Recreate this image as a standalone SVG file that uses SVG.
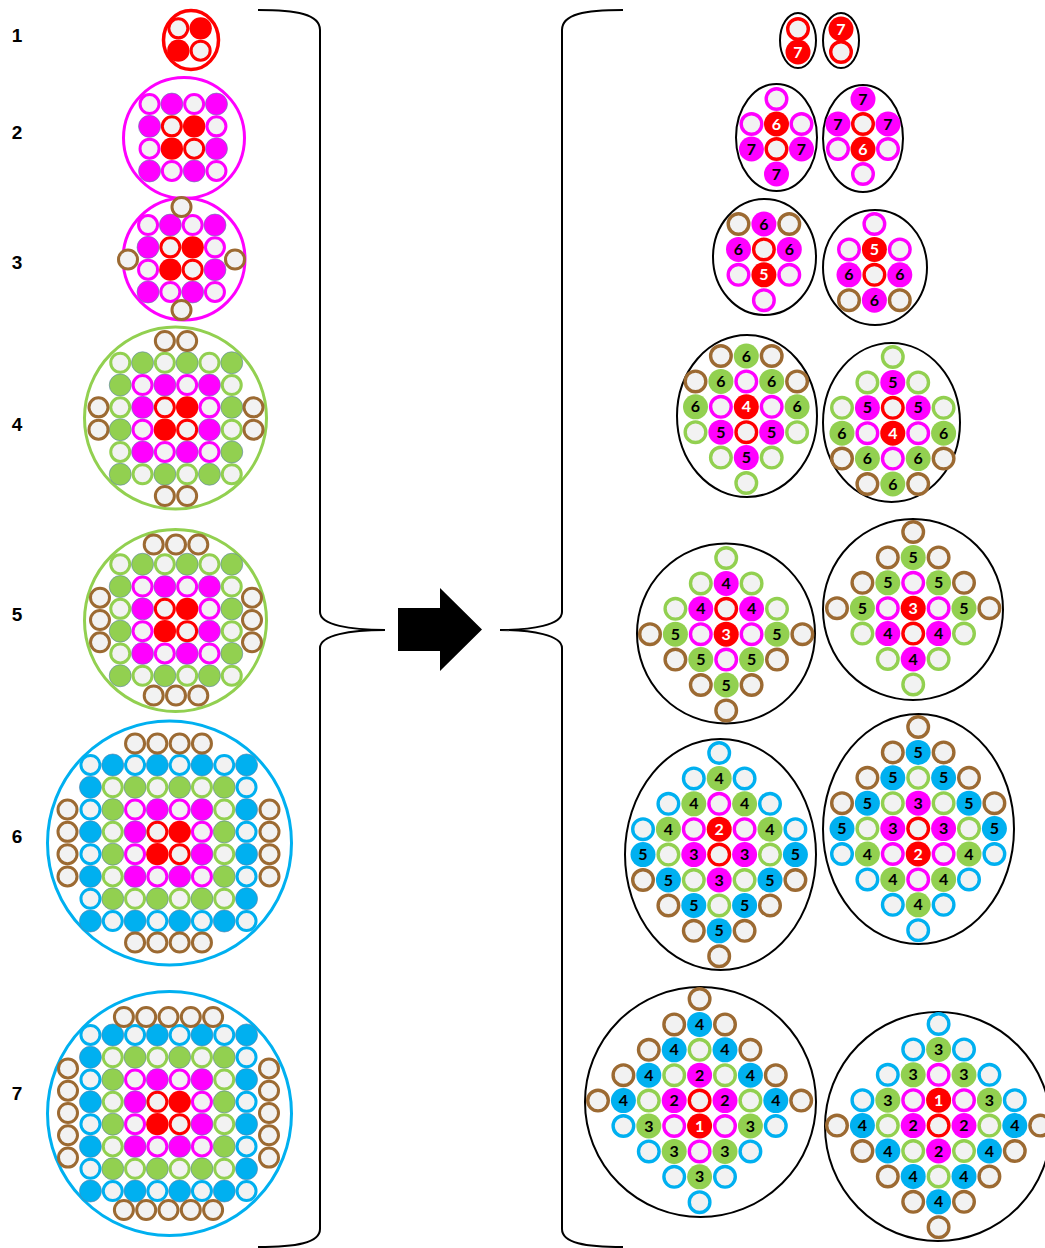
<svg xmlns="http://www.w3.org/2000/svg" width="1045" height="1248" viewBox="0 0 1045 1248">
<style>
.lab{font-family:"Liberation Sans",Arial,sans-serif;font-weight:bold;font-size:19px;text-anchor:middle;fill:#000}
.t text{font-family:Lato,"Open Sans",sans-serif;font-weight:bold;font-size:16px;text-anchor:middle;fill:#000}
.t text.w{fill:#fff}
.ell{fill:none;stroke:#000;stroke-width:2}
.con{fill:none;stroke:#000;stroke-width:2}
</style>
<defs>
<circle id="lrR" r="9.5" fill="#f2f2f2" stroke="#ff0000" stroke-width="3"/>
<circle id="lfR" r="11.2" fill="#ff0000"/>
<circle id="lrM" r="9.5" fill="#f2f2f2" stroke="#ff00ff" stroke-width="3"/>
<circle id="lfM" r="11" fill="#ff00ff" stroke="#5a7fa8" stroke-width="0.6"/>
<circle id="lrG" r="9.5" fill="#f2f2f2" stroke="#92d050" stroke-width="3"/>
<circle id="lfG" r="11" fill="#92d050" stroke="#5a7fa8" stroke-width="0.6"/>
<circle id="lrB" r="9.5" fill="#f2f2f2" stroke="#00b0f0" stroke-width="3"/>
<circle id="lfB" r="11" fill="#00b0f0" stroke="#5a7fa8" stroke-width="0.6"/>
<circle id="lrN" r="9.5" fill="#f2f2f2" stroke="#9c6a32" stroke-width="3"/>
<circle id="Rr" r="10.3" fill="#f2f2f2" stroke="#ff0000" stroke-width="3.4"/>
<circle id="Rf" r="12.5" fill="#ff0000"/>
<circle id="Mr" r="10.3" fill="#f2f2f2" stroke="#ff00ff" stroke-width="3.4"/>
<circle id="Mf" r="12.5" fill="#ff00ff"/>
<circle id="Gr" r="10.3" fill="#f2f2f2" stroke="#92d050" stroke-width="3.4"/>
<circle id="Gf" r="12.5" fill="#92d050"/>
<circle id="Br" r="10.3" fill="#f2f2f2" stroke="#00b0f0" stroke-width="3.4"/>
<circle id="Bf" r="12.5" fill="#00b0f0"/>
<circle id="Nr" r="10.3" fill="#f2f2f2" stroke="#9c6a32" stroke-width="3.4"/>
<g id="core">
<use href="#lrR" x="-11.15" y="-11.15"/><use href="#lfR" x="11.15" y="-11.15"/><use href="#lfR" x="-11.15" y="11.15"/><use href="#lrR" x="11.15" y="11.15"/>
</g>
<g id="L1">
<use href="#lrM" x="-33.45" y="-33.45"/><use href="#lfM" x="-11.15" y="-33.45"/><use href="#lrM" x="11.15" y="-33.45"/><use href="#lfM" x="33.45" y="-33.45"/>
<use href="#lfM" x="-33.45" y="33.45"/><use href="#lrM" x="-11.15" y="33.45"/><use href="#lfM" x="11.15" y="33.45"/><use href="#lrM" x="33.45" y="33.45"/>
<use href="#lfM" x="-33.45" y="-11.15"/><use href="#lrM" x="-33.45" y="11.15"/>
<use href="#lrM" x="33.45" y="-11.15"/><use href="#lfM" x="33.45" y="11.15"/>
</g>
<g id="L2">
<use href="#lrG" x="-55.75" y="-55.75"/><use href="#lfG" x="-33.45" y="-55.75"/><use href="#lrG" x="-11.15" y="-55.75"/><use href="#lfG" x="11.15" y="-55.75"/><use href="#lrG" x="33.45" y="-55.75"/><use href="#lfG" x="55.75" y="-55.75"/>
<use href="#lfG" x="-55.75" y="55.75"/><use href="#lrG" x="-33.45" y="55.75"/><use href="#lfG" x="-11.15" y="55.75"/><use href="#lrG" x="11.15" y="55.75"/><use href="#lfG" x="33.45" y="55.75"/><use href="#lrG" x="55.75" y="55.75"/>
<use href="#lfG" x="-55.75" y="-33.45"/><use href="#lrG" x="-55.75" y="-11.15"/><use href="#lfG" x="-55.75" y="11.15"/><use href="#lrG" x="-55.75" y="33.45"/>
<use href="#lrG" x="55.75" y="-33.45"/><use href="#lfG" x="55.75" y="-11.15"/><use href="#lrG" x="55.75" y="11.15"/><use href="#lfG" x="55.75" y="33.45"/>
</g>
<g id="L3">
<use href="#lrB" x="-78.05" y="-78.05"/><use href="#lfB" x="-55.75" y="-78.05"/><use href="#lrB" x="-33.45" y="-78.05"/><use href="#lfB" x="-11.15" y="-78.05"/><use href="#lrB" x="11.15" y="-78.05"/><use href="#lfB" x="33.45" y="-78.05"/><use href="#lrB" x="55.75" y="-78.05"/><use href="#lfB" x="78.05" y="-78.05"/>
<use href="#lfB" x="-78.05" y="78.05"/><use href="#lrB" x="-55.75" y="78.05"/><use href="#lfB" x="-33.45" y="78.05"/><use href="#lrB" x="-11.15" y="78.05"/><use href="#lfB" x="11.15" y="78.05"/><use href="#lrB" x="33.45" y="78.05"/><use href="#lfB" x="55.75" y="78.05"/><use href="#lrB" x="78.05" y="78.05"/>
<use href="#lfB" x="-78.05" y="-55.75"/><use href="#lrB" x="-78.05" y="-33.45"/><use href="#lfB" x="-78.05" y="-11.15"/><use href="#lrB" x="-78.05" y="11.15"/><use href="#lfB" x="-78.05" y="33.45"/><use href="#lrB" x="-78.05" y="55.75"/>
<use href="#lrB" x="78.05" y="-55.75"/><use href="#lfB" x="78.05" y="-33.45"/><use href="#lrB" x="78.05" y="-11.15"/><use href="#lfB" x="78.05" y="11.15"/><use href="#lrB" x="78.05" y="33.45"/><use href="#lfB" x="78.05" y="55.75"/>
</g>
</defs>
<rect width="1045" height="1248" fill="#fff"/>

<g id="labels">
<text class="lab" x="17" y="42">1</text>
<text class="lab" x="17" y="139">2</text>
<text class="lab" x="17" y="269">3</text>
<text class="lab" x="17" y="431">4</text>
<text class="lab" x="17" y="621">5</text>
<text class="lab" x="17" y="843">6</text>
<text class="lab" x="17" y="1100">7</text>
</g>

<g id="connectors">
<path class="con" d="M258,10 C296,10 320,14 320,30 L320,612 C320,625 350,630 385,630 C350,630 320,635 320,648 L320,1229 C320,1243 296,1247 258,1247"/>
<path class="con" d="M623,10 C585,10 562,14 562,30 L562,612 C562,625 532,630 500,630 C532,630 562,635 562,648 L562,1229 C562,1243 585,1247 623,1247"/>
<polygon points="398,608 440,608 440,588 482,629.5 440,671 440,651 398,651" fill="#000"/>
</g>

<g id="item1">
<ellipse cx="191" cy="40" rx="27.5" ry="29.5" fill="none" stroke="#ff0000" stroke-width="3.5"/>
<g transform="translate(189.5,39.5)"><use href="#core"/></g>
</g>
<g id="item2">
<circle cx="184" cy="138" r="60.5" fill="none" stroke="#ff00ff" stroke-width="3"/>
<g transform="translate(183,137.5)"><use href="#core"/><use href="#L1"/></g>
</g>
<g id="item3">
<circle cx="184" cy="259" r="61" fill="none" stroke="#ff00ff" stroke-width="3"/>
<g transform="translate(181.5,258.5)"><use href="#core"/><use href="#L1"/>
<use href="#lrN" x="0" y="-51.5"/><use href="#lrN" x="0" y="51.5"/><use href="#lrN" x="-53.5" y="1"/><use href="#lrN" x="53.5" y="1"/></g>
</g>
<g id="item4">
<circle cx="175.5" cy="418" r="91" fill="none" stroke="#92d050" stroke-width="3"/>
<g transform="translate(176,418.5)"><use href="#core"/><use href="#L1"/><use href="#L2"/>
<use href="#lrN" x="-11.15" y="-77.5"/><use href="#lrN" x="11.15" y="-77.5"/><use href="#lrN" x="-11.15" y="77.5"/><use href="#lrN" x="11.15" y="77.5"/>
<use href="#lrN" x="-77.5" y="-11.15"/><use href="#lrN" x="-77.5" y="11.15"/><use href="#lrN" x="77.5" y="-11.15"/><use href="#lrN" x="77.5" y="11.15"/></g>
</g>
<g id="item5">
<circle cx="175.5" cy="620.5" r="91" fill="none" stroke="#92d050" stroke-width="3"/>
<g transform="translate(176,620)"><use href="#core"/><use href="#L1"/><use href="#L2"/>
<use href="#lrN" x="-22.3" y="-75.5"/><use href="#lrN" x="0" y="-75.5"/><use href="#lrN" x="22.3" y="-75.5"/>
<use href="#lrN" x="-22.3" y="75.5"/><use href="#lrN" x="0" y="75.5"/><use href="#lrN" x="22.3" y="75.5"/>
<use href="#lrN" x="-76" y="-22.3"/><use href="#lrN" x="-76" y="0"/><use href="#lrN" x="-76" y="22.3"/>
<use href="#lrN" x="76" y="-22.3"/><use href="#lrN" x="76" y="0"/><use href="#lrN" x="76" y="22.3"/></g>
</g>
<g id="item6">
<circle cx="169.5" cy="843" r="122" fill="none" stroke="#00b0f0" stroke-width="3"/>
<g transform="translate(168.5,843)"><use href="#core"/><use href="#L1"/><use href="#L2"/><use href="#L3"/>
<use href="#lrN" x="-33.45" y="-99.5"/><use href="#lrN" x="-11.15" y="-99.5"/><use href="#lrN" x="11.15" y="-99.5"/><use href="#lrN" x="33.45" y="-99.5"/>
<use href="#lrN" x="-33.45" y="99.5"/><use href="#lrN" x="-11.15" y="99.5"/><use href="#lrN" x="11.15" y="99.5"/><use href="#lrN" x="33.45" y="99.5"/>
<use href="#lrN" x="-101" y="-33.45"/><use href="#lrN" x="-101" y="-11.15"/><use href="#lrN" x="-101" y="11.15"/><use href="#lrN" x="-101" y="33.45"/>
<use href="#lrN" x="101" y="-33.45"/><use href="#lrN" x="101" y="-11.15"/><use href="#lrN" x="101" y="11.15"/><use href="#lrN" x="101" y="33.45"/></g>
</g>
<g id="item7">
<circle cx="169.5" cy="1113.5" r="122" fill="none" stroke="#00b0f0" stroke-width="3"/>
<g transform="translate(168.5,1113)"><use href="#core"/><use href="#L1"/><use href="#L2"/><use href="#L3"/>
<use href="#lrN" x="-44.6" y="-96"/><use href="#lrN" x="-22.3" y="-96"/><use href="#lrN" x="0" y="-96"/><use href="#lrN" x="22.3" y="-96"/><use href="#lrN" x="44.6" y="-96"/>
<use href="#lrN" x="-44.6" y="97"/><use href="#lrN" x="-22.3" y="97"/><use href="#lrN" x="0" y="97"/><use href="#lrN" x="22.3" y="97"/><use href="#lrN" x="44.6" y="97"/>
<use href="#lrN" x="-100.5" y="-44.6"/><use href="#lrN" x="-100.5" y="-22.3"/><use href="#lrN" x="-100.5" y="0"/><use href="#lrN" x="-100.5" y="22.3"/><use href="#lrN" x="-100.5" y="44.6"/>
<use href="#lrN" x="100.5" y="-44.6"/><use href="#lrN" x="100.5" y="-22.3"/><use href="#lrN" x="100.5" y="0"/><use href="#lrN" x="100.5" y="22.3"/><use href="#lrN" x="100.5" y="44.6"/></g>
</g>

<g id="r1a" transform="translate(798,29)">
<ellipse class="ell" cx="0" cy="11.5" rx="18" ry="27.5"/>
<use href="#Rr"/><use href="#Rf" y="23"/>
<g class="t" transform="translate(0,5.5)"><text class="w" x="0" y="23">7</text></g>
</g>
<g id="r1b" transform="translate(841,29)">
<ellipse class="ell" cx="0" cy="11.5" rx="18" ry="27.5"/>
<use href="#Rf"/><use href="#Rr" y="23"/>
<g class="t" transform="translate(0,5.5)"><text class="w" x="0" y="0">7</text></g>
</g>

<g id="r2a" transform="translate(751.5,99)">
<ellipse class="ell" cx="25" cy="38.5" rx="40.5" ry="53.5"/>
<use href="#Mr" x="25"/><use href="#Mr" y="25"/><use href="#Rf" x="25" y="25"/><use href="#Mr" x="50" y="25"/>
<use href="#Mf" y="50"/><use href="#Rr" x="25" y="50"/><use href="#Mf" x="50" y="50"/><use href="#Mf" x="25" y="75"/>
<g class="t" transform="translate(0,5.5)"><text class="w" x="25" y="25">6</text><text x="0" y="50">7</text><text x="50" y="50">7</text><text x="25" y="75">7</text></g>
</g>
<g id="r2b" transform="translate(838,99)">
<ellipse class="ell" cx="25" cy="39.5" rx="40" ry="53.5"/>
<use href="#Mf" x="25"/><use href="#Mf" y="25"/><use href="#Rr" x="25" y="25"/><use href="#Mf" x="50" y="25"/>
<use href="#Mr" y="50"/><use href="#Rf" x="25" y="50"/><use href="#Mr" x="50" y="50"/><use href="#Mr" x="25" y="75"/>
<g class="t" transform="translate(0,5.5)"><text x="25" y="0">7</text><text x="0" y="25">7</text><text x="50" y="25">7</text><text class="w" x="25" y="50">6</text></g>
</g>

<g id="r3a" transform="translate(738.5,224)">
<ellipse class="ell" cx="26" cy="33" rx="51.5" ry="58"/>
<use href="#Nr"/><use href="#Mf" x="25.4"/><use href="#Nr" x="50.8"/>
<use href="#Mf" y="25.4"/><use href="#Rr" x="25.4" y="25.4"/><use href="#Mf" x="50.8" y="25.4"/>
<use href="#Mr" y="50.8"/><use href="#Rf" x="25.4" y="50.8"/><use href="#Mr" x="50.8" y="50.8"/>
<use href="#Mr" x="25.4" y="76.2"/>
<g class="t" transform="translate(0,5.5)"><text x="25.4" y="0">6</text><text x="0" y="25.4">6</text><text x="50.8" y="25.4">6</text><text class="w" x="25.4" y="50.8">5</text></g>
</g>
<g id="r3b" transform="translate(849,224)">
<ellipse class="ell" cx="26" cy="43.5" rx="52" ry="57.5"/>
<use href="#Mr" x="25.4"/>
<use href="#Mr" y="25.4"/><use href="#Rf" x="25.4" y="25.4"/><use href="#Mr" x="50.8" y="25.4"/>
<use href="#Mf" y="50.8"/><use href="#Rr" x="25.4" y="50.8"/><use href="#Mf" x="50.8" y="50.8"/>
<use href="#Nr" y="76.2"/><use href="#Mf" x="25.4" y="76.2"/><use href="#Nr" x="50.8" y="76.2"/>
<g class="t" transform="translate(0,5.5)"><text class="w" x="25.4" y="25.4">5</text><text x="0" y="50.8">6</text><text x="50.8" y="50.8">6</text><text x="25.4" y="76.2">6</text></g>
</g>

<g id="r4a" transform="translate(695.5,356)">
<ellipse class="ell" cx="51.5" cy="60" rx="70" ry="81"/>
<use href="#Nr" x="25.4"/><use href="#Gf" x="50.8"/><use href="#Nr" x="76.2"/>
<use href="#Nr" y="25.4"/><use href="#Gf" x="25.4" y="25.4"/><use href="#Mr" x="50.8" y="25.4"/><use href="#Gf" x="76.2" y="25.4"/><use href="#Nr" x="101.6" y="25.4"/>
<use href="#Gf" y="50.8"/><use href="#Mr" x="25.4" y="50.8"/><use href="#Rf" x="50.8" y="50.8"/><use href="#Mr" x="76.2" y="50.8"/><use href="#Gf" x="101.6" y="50.8"/>
<use href="#Gr" y="76.2"/><use href="#Mf" x="25.4" y="76.2"/><use href="#Rr" x="50.8" y="76.2"/><use href="#Mf" x="76.2" y="76.2"/><use href="#Gr" x="101.6" y="76.2"/>
<use href="#Gr" x="25.4" y="101.6"/><use href="#Mf" x="50.8" y="101.6"/><use href="#Gr" x="76.2" y="101.6"/>
<use href="#Gr" x="50.8" y="127"/>
<g class="t" transform="translate(0,5.5)"><text x="50.8" y="0">6</text><text x="25.4" y="25.4">6</text><text x="76.2" y="25.4">6</text><text x="0" y="50.8">6</text><text class="w" x="50.8" y="50.8">4</text><text x="101.6" y="50.8">6</text><text x="25.4" y="76.2">5</text><text x="76.2" y="76.2">5</text><text x="50.8" y="101.6">5</text></g>
</g>
<g id="r4b" transform="translate(842,357)">
<ellipse class="ell" cx="49.5" cy="65.5" rx="68.5" ry="79.5"/>
<use href="#Gr" x="50.8"/>
<use href="#Gr" x="25.4" y="25.4"/><use href="#Mf" x="50.8" y="25.4"/><use href="#Gr" x="76.2" y="25.4"/>
<use href="#Gr" y="50.8"/><use href="#Mf" x="25.4" y="50.8"/><use href="#Rr" x="50.8" y="50.8"/><use href="#Mf" x="76.2" y="50.8"/><use href="#Gr" x="101.6" y="50.8"/>
<use href="#Gf" y="76.2"/><use href="#Mr" x="25.4" y="76.2"/><use href="#Rf" x="50.8" y="76.2"/><use href="#Mr" x="76.2" y="76.2"/><use href="#Gf" x="101.6" y="76.2"/>
<use href="#Nr" y="101.6"/><use href="#Gf" x="25.4" y="101.6"/><use href="#Mr" x="50.8" y="101.6"/><use href="#Gf" x="76.2" y="101.6"/><use href="#Nr" x="101.6" y="101.6"/>
<use href="#Nr" x="25.4" y="127"/><use href="#Gf" x="50.8" y="127"/><use href="#Nr" x="76.2" y="127"/>
<g class="t" transform="translate(0,5.5)"><text x="50.8" y="25.4">5</text><text x="25.4" y="50.8">5</text><text x="76.2" y="50.8">5</text><text x="0" y="76.2">6</text><text class="w" x="50.8" y="76.2">4</text><text x="101.6" y="76.2">6</text><text x="25.4" y="101.6">6</text><text x="76.2" y="101.6">6</text><text x="50.8" y="127">6</text></g>
</g>

<g id="r5a" transform="translate(650,558)">
<ellipse class="ell" cx="76" cy="75.5" rx="89" ry="90"/>
<use href="#Gr" x="76.2"/>
<use href="#Gr" x="50.8" y="25.4"/><use href="#Mf" x="76.2" y="25.4"/><use href="#Gr" x="101.6" y="25.4"/>
<use href="#Gr" x="25.4" y="50.8"/><use href="#Mf" x="50.8" y="50.8"/><use href="#Rr" x="76.2" y="50.8"/><use href="#Mf" x="101.6" y="50.8"/><use href="#Gr" x="127" y="50.8"/>
<use href="#Nr" y="76.2"/><use href="#Gf" x="25.4" y="76.2"/><use href="#Mr" x="50.8" y="76.2"/><use href="#Rf" x="76.2" y="76.2"/><use href="#Mr" x="101.6" y="76.2"/><use href="#Gf" x="127" y="76.2"/><use href="#Nr" x="152.4" y="76.2"/>
<use href="#Nr" x="25.4" y="101.6"/><use href="#Gf" x="50.8" y="101.6"/><use href="#Mr" x="76.2" y="101.6"/><use href="#Gf" x="101.6" y="101.6"/><use href="#Nr" x="127" y="101.6"/>
<use href="#Nr" x="50.8" y="127"/><use href="#Gf" x="76.2" y="127"/><use href="#Nr" x="101.6" y="127"/>
<use href="#Nr" x="76.2" y="152.4"/>
<g class="t" transform="translate(0,5.5)"><text x="76.2" y="25.4">4</text><text x="50.8" y="50.8">4</text><text x="101.6" y="50.8">4</text><text x="25.4" y="76.2">5</text><text class="w" x="76.2" y="76.2">3</text><text x="127" y="76.2">5</text><text x="50.8" y="101.6">5</text><text x="101.6" y="101.6">5</text><text x="76.2" y="127">5</text></g>
</g>
<g id="r5b" transform="translate(837,532)">
<ellipse class="ell" cx="76" cy="77.5" rx="90" ry="90.5"/>
<use href="#Nr" x="76.2"/>
<use href="#Nr" x="50.8" y="25.4"/><use href="#Gf" x="76.2" y="25.4"/><use href="#Nr" x="101.6" y="25.4"/>
<use href="#Nr" x="25.4" y="50.8"/><use href="#Gf" x="50.8" y="50.8"/><use href="#Mr" x="76.2" y="50.8"/><use href="#Gf" x="101.6" y="50.8"/><use href="#Nr" x="127" y="50.8"/>
<use href="#Nr" y="76.2"/><use href="#Gf" x="25.4" y="76.2"/><use href="#Mr" x="50.8" y="76.2"/><use href="#Rf" x="76.2" y="76.2"/><use href="#Mr" x="101.6" y="76.2"/><use href="#Gf" x="127" y="76.2"/><use href="#Nr" x="152.4" y="76.2"/>
<use href="#Gr" x="25.4" y="101.6"/><use href="#Mf" x="50.8" y="101.6"/><use href="#Rr" x="76.2" y="101.6"/><use href="#Mf" x="101.6" y="101.6"/><use href="#Gr" x="127" y="101.6"/>
<use href="#Gr" x="50.8" y="127"/><use href="#Mf" x="76.2" y="127"/><use href="#Gr" x="101.6" y="127"/>
<use href="#Gr" x="76.2" y="152.4"/>
<g class="t" transform="translate(0,5.5)"><text x="76.2" y="25.4">5</text><text x="50.8" y="50.8">5</text><text x="101.6" y="50.8">5</text><text x="25.4" y="76.2">5</text><text class="w" x="76.2" y="76.2">3</text><text x="127" y="76.2">5</text><text x="50.8" y="101.6">4</text><text x="101.6" y="101.6">4</text><text x="76.2" y="127">4</text></g>
</g>

<g id="r6a" transform="translate(643,753)">
<ellipse class="ell" cx="77.5" cy="101.5" rx="95.5" ry="115.5"/>
<use href="#Br" x="76.2"/>
<use href="#Br" x="50.8" y="25.4"/><use href="#Gf" x="76.2" y="25.4"/><use href="#Br" x="101.6" y="25.4"/>
<use href="#Br" x="25.4" y="50.8"/><use href="#Gf" x="50.8" y="50.8"/><use href="#Mr" x="76.2" y="50.8"/><use href="#Gf" x="101.6" y="50.8"/><use href="#Br" x="127" y="50.8"/>
<use href="#Br" y="76.2"/><use href="#Gf" x="25.4" y="76.2"/><use href="#Mr" x="50.8" y="76.2"/><use href="#Rf" x="76.2" y="76.2"/><use href="#Mr" x="101.6" y="76.2"/><use href="#Gf" x="127" y="76.2"/><use href="#Br" x="152.4" y="76.2"/>
<use href="#Bf" y="101.6"/><use href="#Gr" x="25.4" y="101.6"/><use href="#Mf" x="50.8" y="101.6"/><use href="#Rr" x="76.2" y="101.6"/><use href="#Mf" x="101.6" y="101.6"/><use href="#Gr" x="127" y="101.6"/><use href="#Bf" x="152.4" y="101.6"/>
<use href="#Nr" y="127"/><use href="#Bf" x="25.4" y="127"/><use href="#Gr" x="50.8" y="127"/><use href="#Mf" x="76.2" y="127"/><use href="#Gr" x="101.6" y="127"/><use href="#Bf" x="127" y="127"/><use href="#Nr" x="152.4" y="127"/>
<use href="#Nr" x="25.4" y="152.4"/><use href="#Bf" x="50.8" y="152.4"/><use href="#Gr" x="76.2" y="152.4"/><use href="#Bf" x="101.6" y="152.4"/><use href="#Nr" x="127" y="152.4"/>
<use href="#Nr" x="50.8" y="177.8"/><use href="#Bf" x="76.2" y="177.8"/><use href="#Nr" x="101.6" y="177.8"/>
<use href="#Nr" x="76.2" y="203.2"/>
<g class="t" transform="translate(0,5.5)"><text x="76.2" y="25.4">4</text><text x="50.8" y="50.8">4</text><text x="101.6" y="50.8">4</text><text x="25.4" y="76.2">4</text><text class="w" x="76.2" y="76.2">2</text><text x="127" y="76.2">4</text><text x="0" y="101.6">5</text><text x="50.8" y="101.6">3</text><text x="101.6" y="101.6">3</text><text x="152.4" y="101.6">5</text><text x="25.4" y="127">5</text><text x="76.2" y="127">3</text><text x="127" y="127">5</text><text x="50.8" y="152.4">5</text><text x="101.6" y="152.4">5</text><text x="76.2" y="177.8">5</text></g>
</g>
<g id="r6b" transform="translate(842,727)">
<ellipse class="ell" cx="76.5" cy="102" rx="95.5" ry="115"/>
<use href="#Nr" x="76.2"/>
<use href="#Nr" x="50.8" y="25.4"/><use href="#Bf" x="76.2" y="25.4"/><use href="#Nr" x="101.6" y="25.4"/>
<use href="#Nr" x="25.4" y="50.8"/><use href="#Bf" x="50.8" y="50.8"/><use href="#Gr" x="76.2" y="50.8"/><use href="#Bf" x="101.6" y="50.8"/><use href="#Nr" x="127" y="50.8"/>
<use href="#Nr" y="76.2"/><use href="#Bf" x="25.4" y="76.2"/><use href="#Gr" x="50.8" y="76.2"/><use href="#Mf" x="76.2" y="76.2"/><use href="#Gr" x="101.6" y="76.2"/><use href="#Bf" x="127" y="76.2"/><use href="#Nr" x="152.4" y="76.2"/>
<use href="#Bf" y="101.6"/><use href="#Gr" x="25.4" y="101.6"/><use href="#Mf" x="50.8" y="101.6"/><use href="#Rr" x="76.2" y="101.6"/><use href="#Mf" x="101.6" y="101.6"/><use href="#Gr" x="127" y="101.6"/><use href="#Bf" x="152.4" y="101.6"/>
<use href="#Br" y="127"/><use href="#Gf" x="25.4" y="127"/><use href="#Mr" x="50.8" y="127"/><use href="#Rf" x="76.2" y="127"/><use href="#Mr" x="101.6" y="127"/><use href="#Gf" x="127" y="127"/><use href="#Br" x="152.4" y="127"/>
<use href="#Br" x="25.4" y="152.4"/><use href="#Gf" x="50.8" y="152.4"/><use href="#Mr" x="76.2" y="152.4"/><use href="#Gf" x="101.6" y="152.4"/><use href="#Br" x="127" y="152.4"/>
<use href="#Br" x="50.8" y="177.8"/><use href="#Gf" x="76.2" y="177.8"/><use href="#Br" x="101.6" y="177.8"/>
<use href="#Br" x="76.2" y="203.2"/>
<g class="t" transform="translate(0,5.5)"><text x="76.2" y="25.4">5</text><text x="50.8" y="50.8">5</text><text x="101.6" y="50.8">5</text><text x="25.4" y="76.2">5</text><text x="76.2" y="76.2">3</text><text x="127" y="76.2">5</text><text x="0" y="101.6">5</text><text x="50.8" y="101.6">3</text><text x="101.6" y="101.6">3</text><text x="152.4" y="101.6">5</text><text x="25.4" y="127">4</text><text class="w" x="76.2" y="127">2</text><text x="127" y="127">4</text><text x="50.8" y="152.4">4</text><text x="101.6" y="152.4">4</text><text x="76.2" y="177.8">4</text></g>
</g>

<g id="r7a" transform="translate(598,999)">
<ellipse class="ell" cx="102.5" cy="103" rx="115.5" ry="115"/>
<use href="#Nr" x="101.6"/>
<use href="#Nr" x="76.2" y="25.4"/><use href="#Bf" x="101.6" y="25.4"/><use href="#Nr" x="127" y="25.4"/>
<use href="#Nr" x="50.8" y="50.8"/><use href="#Bf" x="76.2" y="50.8"/><use href="#Gr" x="101.6" y="50.8"/><use href="#Bf" x="127" y="50.8"/><use href="#Nr" x="152.4" y="50.8"/>
<use href="#Nr" x="25.4" y="76.2"/><use href="#Bf" x="50.8" y="76.2"/><use href="#Gr" x="76.2" y="76.2"/><use href="#Mf" x="101.6" y="76.2"/><use href="#Gr" x="127" y="76.2"/><use href="#Bf" x="152.4" y="76.2"/><use href="#Nr" x="177.8" y="76.2"/>
<use href="#Nr" y="101.6"/><use href="#Bf" x="25.4" y="101.6"/><use href="#Gr" x="50.8" y="101.6"/><use href="#Mf" x="76.2" y="101.6"/><use href="#Rr" x="101.6" y="101.6"/><use href="#Mf" x="127" y="101.6"/><use href="#Gr" x="152.4" y="101.6"/><use href="#Bf" x="177.8" y="101.6"/><use href="#Nr" x="203.2" y="101.6"/>
<use href="#Br" x="25.4" y="127"/><use href="#Gf" x="50.8" y="127"/><use href="#Mr" x="76.2" y="127"/><use href="#Rf" x="101.6" y="127"/><use href="#Mr" x="127" y="127"/><use href="#Gf" x="152.4" y="127"/><use href="#Br" x="177.8" y="127"/>
<use href="#Br" x="50.8" y="152.4"/><use href="#Gf" x="76.2" y="152.4"/><use href="#Mr" x="101.6" y="152.4"/><use href="#Gf" x="127" y="152.4"/><use href="#Br" x="152.4" y="152.4"/>
<use href="#Br" x="76.2" y="177.8"/><use href="#Gf" x="101.6" y="177.8"/><use href="#Br" x="127" y="177.8"/>
<use href="#Br" x="101.6" y="203.2"/>
<g class="t" transform="translate(0,5.5)"><text x="101.6" y="25.4">4</text><text x="76.2" y="50.8">4</text><text x="127" y="50.8">4</text><text x="50.8" y="76.2">4</text><text x="101.6" y="76.2">2</text><text x="152.4" y="76.2">4</text><text x="25.4" y="101.6">4</text><text x="76.2" y="101.6">2</text><text x="127" y="101.6">2</text><text x="177.8" y="101.6">4</text><text x="50.8" y="127">3</text><text class="w" x="101.6" y="127">1</text><text x="152.4" y="127">3</text><text x="76.2" y="152.4">3</text><text x="127" y="152.4">3</text><text x="101.6" y="177.8">3</text></g>
</g>
<g id="r7b" transform="translate(837,1024)">
<ellipse class="ell" cx="101" cy="102.5" rx="113" ry="114.5"/>
<use href="#Br" x="101.6"/>
<use href="#Br" x="76.2" y="25.4"/><use href="#Gf" x="101.6" y="25.4"/><use href="#Br" x="127" y="25.4"/>
<use href="#Br" x="50.8" y="50.8"/><use href="#Gf" x="76.2" y="50.8"/><use href="#Mr" x="101.6" y="50.8"/><use href="#Gf" x="127" y="50.8"/><use href="#Br" x="152.4" y="50.8"/>
<use href="#Br" x="25.4" y="76.2"/><use href="#Gf" x="50.8" y="76.2"/><use href="#Mr" x="76.2" y="76.2"/><use href="#Rf" x="101.6" y="76.2"/><use href="#Mr" x="127" y="76.2"/><use href="#Gf" x="152.4" y="76.2"/><use href="#Br" x="177.8" y="76.2"/>
<use href="#Nr" y="101.6"/><use href="#Bf" x="25.4" y="101.6"/><use href="#Gr" x="50.8" y="101.6"/><use href="#Mf" x="76.2" y="101.6"/><use href="#Rr" x="101.6" y="101.6"/><use href="#Mf" x="127" y="101.6"/><use href="#Gr" x="152.4" y="101.6"/><use href="#Bf" x="177.8" y="101.6"/><use href="#Nr" x="203.2" y="101.6"/>
<use href="#Nr" x="25.4" y="127"/><use href="#Bf" x="50.8" y="127"/><use href="#Gr" x="76.2" y="127"/><use href="#Mf" x="101.6" y="127"/><use href="#Gr" x="127" y="127"/><use href="#Bf" x="152.4" y="127"/><use href="#Nr" x="177.8" y="127"/>
<use href="#Nr" x="50.8" y="152.4"/><use href="#Bf" x="76.2" y="152.4"/><use href="#Gr" x="101.6" y="152.4"/><use href="#Bf" x="127" y="152.4"/><use href="#Nr" x="152.4" y="152.4"/>
<use href="#Nr" x="76.2" y="177.8"/><use href="#Bf" x="101.6" y="177.8"/><use href="#Nr" x="127" y="177.8"/>
<use href="#Nr" x="101.6" y="203.2"/>
<g class="t" transform="translate(0,5.5)"><text x="101.6" y="25.4">3</text><text x="76.2" y="50.8">3</text><text x="127" y="50.8">3</text><text x="50.8" y="76.2">3</text><text class="w" x="101.6" y="76.2">1</text><text x="152.4" y="76.2">3</text><text x="25.4" y="101.6">4</text><text x="76.2" y="101.6">2</text><text x="127" y="101.6">2</text><text x="177.8" y="101.6">4</text><text x="50.8" y="127">4</text><text x="101.6" y="127">2</text><text x="152.4" y="127">4</text><text x="76.2" y="152.4">4</text><text x="127" y="152.4">4</text><text x="101.6" y="177.8">4</text></g>
</g>
</svg>
